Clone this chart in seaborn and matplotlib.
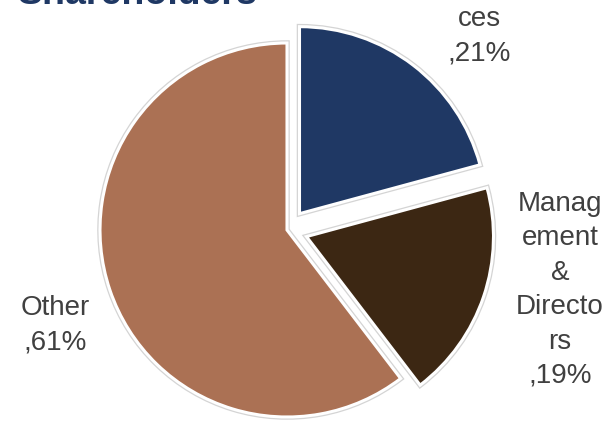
import matplotlib
matplotlib.use("Agg")
import matplotlib.pyplot as plt
import seaborn as sns

sns.set_theme(style="white")
plt.rcParams['font.family'] = ['Liberation Sans', 'DejaVu Sans']

# Data
categories = ["ces", "Management\n&\nDirectors", "Other"]
label_texts = ["ces\n,21%", "Manag\nement\n&\nDirecto\nrs\n,19%", "Other\n,61%"]
shares = [21, 19, 61]
colors = ["#1F3864", "#3C2713", "#AB7154"]
explode = [0.11, 0.11, 0.0]

W, H = 615, 426
fig = plt.figure(figsize=(W / 100, H / 100), dpi=100)
ax = fig.add_axes([0, 0, 1, 1])

cx, cy, R = 287, 230, 187  # pie centre / radius in pixels


def px(x, y):
    return (x - cx) / R, (cy - y) / R


ax.set_aspect("equal")
ax.axis("off")

# outer light-grey outline, then white border on top
ax.pie(shares, colors=colors, explode=explode, startangle=90, counterclock=False,
       radius=1.0, wedgeprops=dict(edgecolor="#d4d4d4", linewidth=4.0))
ax.pie(shares, colors=colors, explode=explode, startangle=90, counterclock=False,
       radius=1.0, wedgeprops=dict(edgecolor="white", linewidth=2.2))
ax.set_xlim((0 - cx) / R, (W - cx) / R)
ax.set_ylim((cy - H) / R, cy / R)

label_pos = [(479, 36), (560, 290), (55, 325)]
for txt, (lx, ly) in zip(label_texts, label_pos):
    x, y = px(lx, ly)
    ax.text(x, y, txt, ha="center", va="center", fontsize=20,
            color="#404040", linespacing=1.42)

fig.text(18 / W, 1 - 4 / H, "Shareholders", ha="left", va="baseline",
         fontsize=27, fontweight="bold", color="#1F3864")

fig.savefig("out.png", dpi=100)
